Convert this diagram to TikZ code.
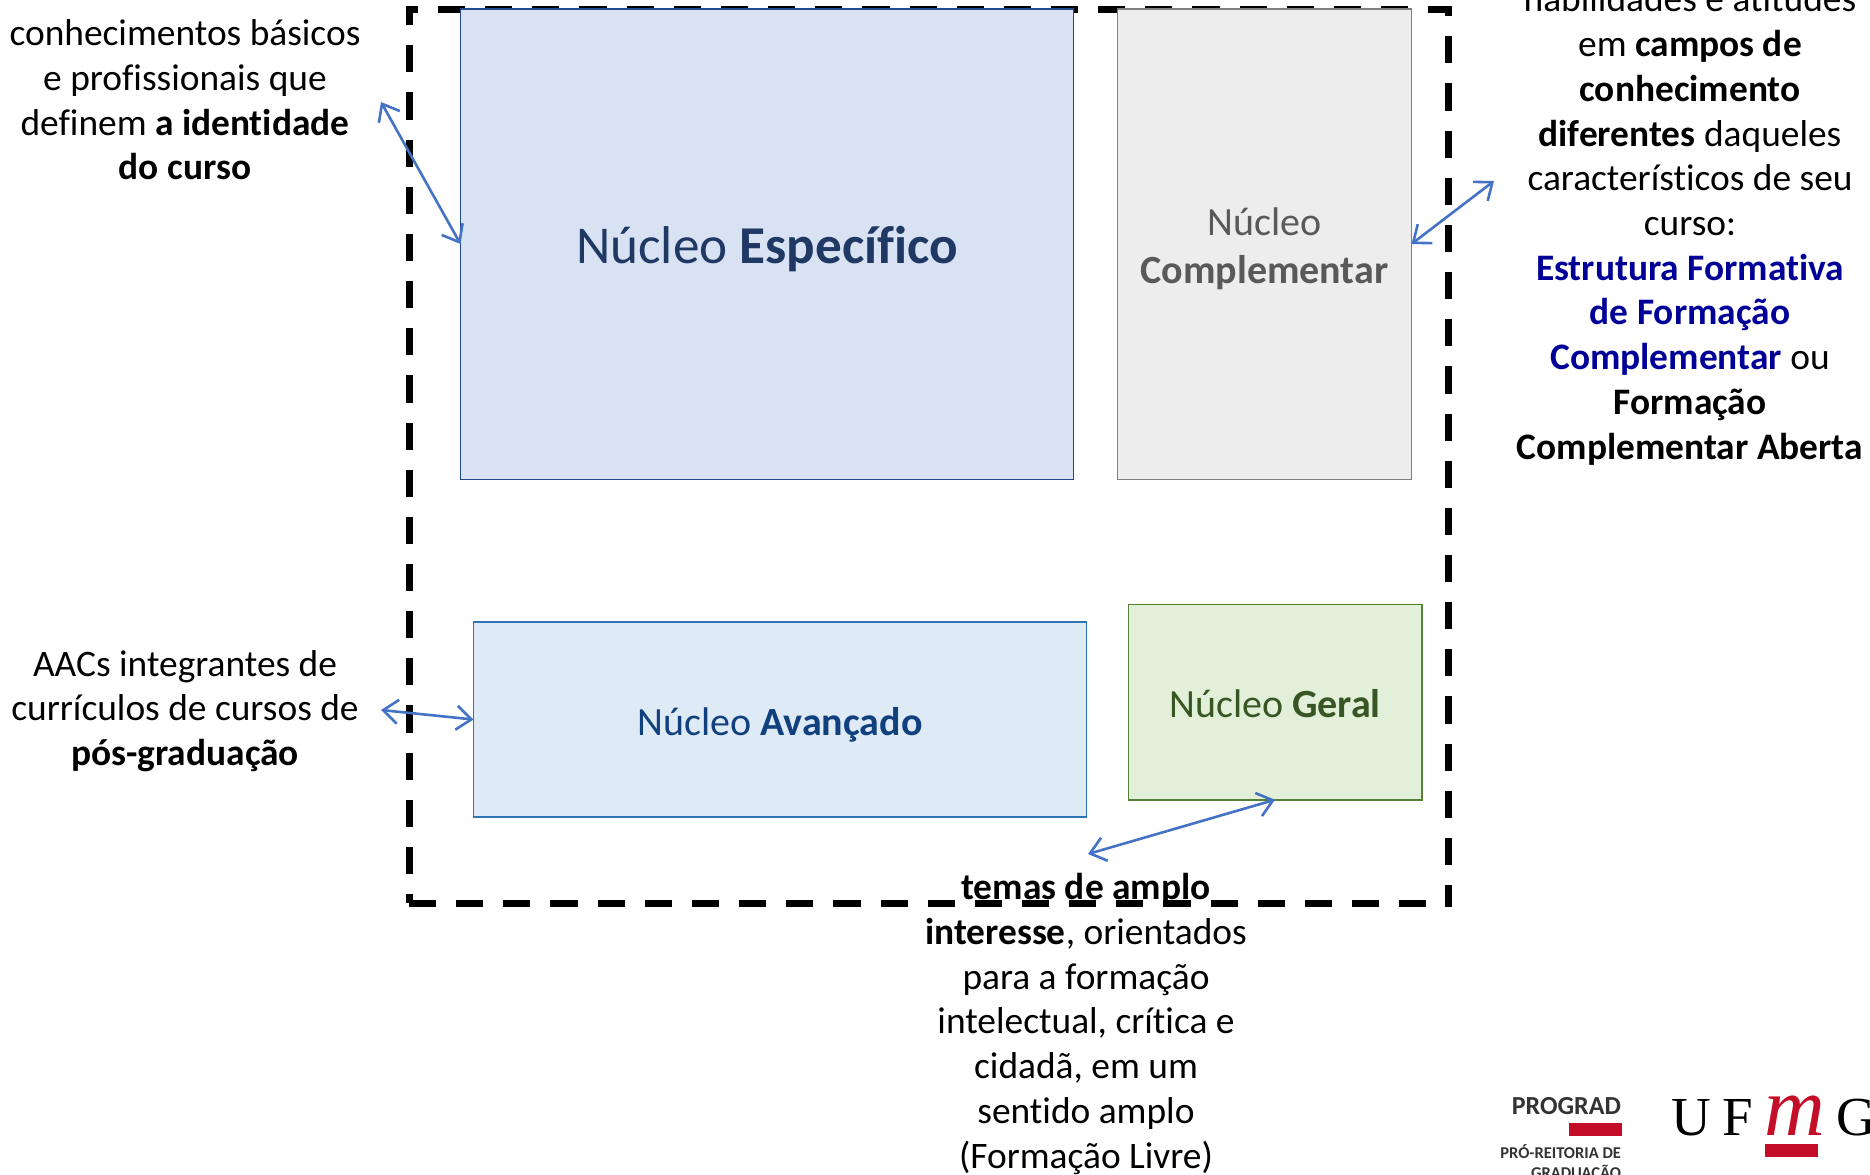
\documentclass[tikz,border=0pt]{standalone}
\usepackage{fontspec}
\setmainfont[Ligatures=NoCommon]{Carlito}
\newfontfamily\logoserif{Liberation Serif}
\usetikzlibrary{arrows.meta}
\definecolor{arrowblue}{HTML}{4472C4}
\definecolor{navytext}{HTML}{000099}
\definecolor{logored}{HTML}{C40D26}
\newcommand{\dropline}[2]{\raisebox{-#1}[0pt][0pt]{#2}}
\tikzset{
  x=0.5pt,y=-0.5pt,
  corebox/.style={draw,line width=0.75pt,inner sep=0pt,outer sep=0pt,align=center},
  bodytext/.style={inner sep=0pt,outer sep=0pt,align=center,font=\fontsize{18.7}{22.36}\selectfont,text=black},
  link/.style={draw=arrowblue,line width=1.3pt,{Straight Barb[length=7.5pt,width=12pt,line width=1.3pt]}-{Straight Barb[length=7.5pt,width=12pt,line width=1.3pt]}},
  boundary/.style={draw=black,line width=3.5pt,dash pattern=on 13.575pt off 10pt},
  logotext/.style={inner sep=0pt,outer sep=0pt,anchor=base east,font=\fontsize{8.25}{9}\selectfont\bfseries,text=black!80},
  logobar/.style={fill=logored,draw=none}
}
\begin{document}
\begin{tikzpicture}
\useasboundingbox (0,0) rectangle (1870,1174);
\clip (0,0) rectangle (1870,1174);
% dashed boundary
\path[boundary] (438,9) -- (1448,9) -- (1448,906.5);
\path[boundary] (409,903) -- (1448,903);
\path[boundary,dash phase=9.075pt] (409,903) -- (409,9) -- (418,9);
% core boxes
\node[corebox,fill={rgb,255:red,217;green,226;blue,243},draw={rgb,255:red,36;green,72;blue,140},minimum width=306.5pt,minimum height=235.25pt,text={rgb,255:red,31;green,56;blue,100},font=\fontsize{26.6}{32}\selectfont] (esp) at (767,244) {\dropline{9.9pt}{Núcleo \textbf{Específico}}};
\node[corebox,fill={rgb,255:red,237;green,237;blue,237},draw={rgb,255:red,127;green,127;blue,127},minimum width=147pt,minimum height=235.25pt,text={rgb,255:red,89;green,89;blue,89},font=\fontsize{20}{24}\selectfont] (comp) at (1264.5,244) {\dropline{7.6pt}{Núcleo}\\\dropline{7.6pt}{\textbf{Complementar}}};
\node[corebox,fill={rgb,255:red,222;green,234;blue,246},draw={rgb,255:red,46;green,117;blue,182},minimum width=306.5pt,minimum height=97.5pt,text={rgb,255:red,16;green,64;blue,125},font=\fontsize{20}{24}\selectfont] (avan) at (780,719.5) {\dropline{8pt}{Núcleo \textbf{Avançado}}};
\node[corebox,fill={rgb,255:red,226;green,239;blue,217},draw={rgb,255:red,83;green,129;blue,53},minimum width=146.75pt,minimum height=97.75pt,text={rgb,255:red,56;green,86;blue,35},font=\fontsize{20}{24}\selectfont] (geral) at (1275,702) {\dropline{7.9pt}{Núcleo \textbf{Geral}}};
% description texts
\node[bodytext] (tbasic) at (185,100) {conhecimentos básicos\\e profissionais que\\definem \textbf{a identidade}\\\textbf{do curso}};
\node[bodytext] (taac) at (185,711) {AACs integrantes de\\currículos de cursos de\\\textbf{pós-graduação}};
\node[bodytext] (tcomp) at (1690,225.5) {habilidades e atitudes\\em \textbf{campos de}\\\textbf{conhecimento}\\\textbf{diferentes} daqueles\\característicos de seu\\curso:\\\textcolor{navytext}{\textbf{Estrutura Formativa}}\\\textcolor{navytext}{\textbf{de Formação}}\\\textcolor{navytext}{\textbf{Complementar}} ou\\\textbf{Formação}\\\textbf{Complementar Aberta}};
\node[bodytext] (tlivre) at (1086,1024) {\textbf{temas de amplo}\\\textbf{interesse}, orientados\\para a formação\\intelectual, crítica e\\cidadã, em um\\sentido amplo\\(Formação Livre)};
% connector free ends
\coordinate (ebasic) at (381,102);
\coordinate (ecomp) at (1494,181);
\coordinate (eaac) at (381,710);
\coordinate (elivre) at (1088,854);
\draw[link] (ebasic) -- (esp.west);
\draw[link] (ecomp) -- (comp.east);
\draw[link] (eaac) -- (avan.west);
\draw[link] (elivre) -- (geral.south);
% logo
\node[logotext,font=\fontsize{13}{14}\selectfont\bfseries] (lprog) at (1621,1114) {PROGRAD};
\node[logobar,minimum width=26.5pt,minimum height=6.5pt,inner sep=0pt] (lbar1) at (1595.5,1129.5) {};
\node[logotext] (lpro) at (1621,1158) {PRÓ-REITORIA DE};
\node[logotext] (lgrad) at (1621,1178) {GRADUAÇÃO};
\node[inner sep=0pt,anchor=base west,font=\logoserif\fontsize{27.5}{30}\selectfont] (lu) at (1671,1135) {U};
\node[inner sep=0pt,anchor=base west,font=\logoserif\fontsize{27.5}{30}\selectfont] (lf) at (1722,1135) {F};
\node[inner sep=0pt,anchor=base west,font=\logoserif\itshape\fontsize{42}{44}\selectfont,text=logored] (lm) at (1764,1135) {m};
\node[inner sep=0pt,anchor=base west,font=\logoserif\fontsize{27.5}{30}\selectfont] (lg) at (1836,1135) {G};
\node[logobar,minimum width=26.5pt,minimum height=6.5pt,inner sep=0pt] (lbar2) at (1791.5,1150.5) {};
\end{tikzpicture}
\end{document}
